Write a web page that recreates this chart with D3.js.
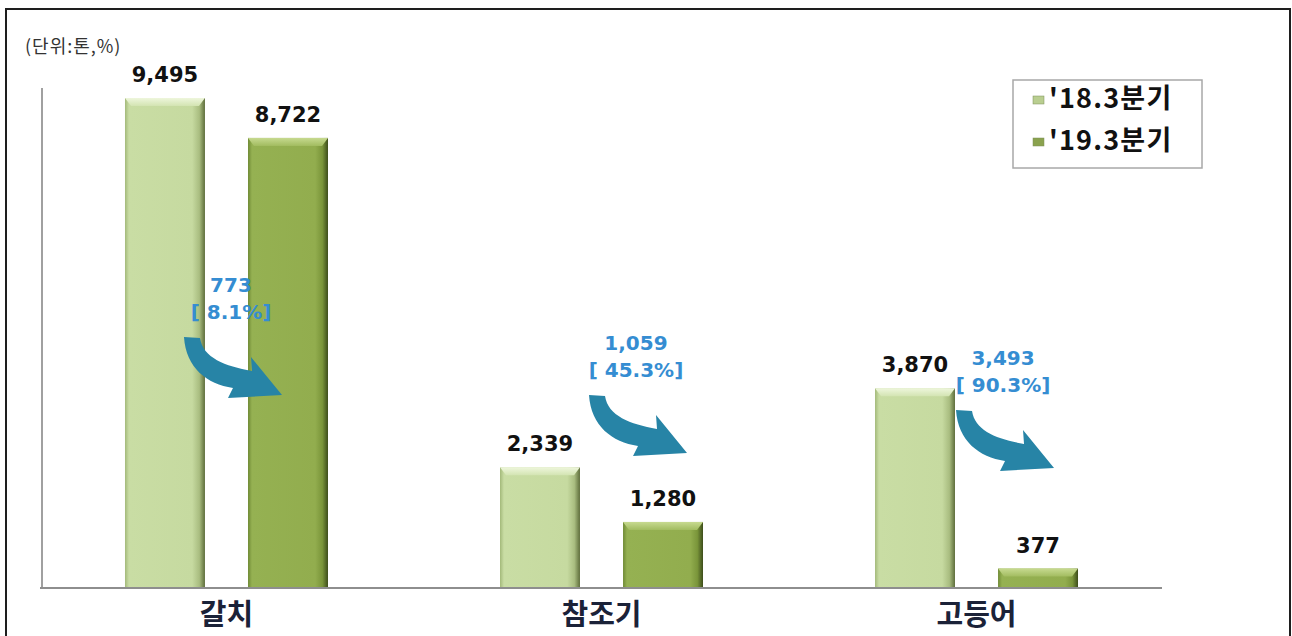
<!DOCTYPE html>
<html>
<head>
<meta charset="utf-8">
<script src="https://cdn.jsdelivr.net/npm/d3@7"></script>
<style>
  body { margin: 0; background: #fff; }
  svg { display: block; }
</style>
</head>
<body>
<svg width="1292" height="636"></svg>
<script>
// data (unit: tonnes)
var categories = ["갈치", "참조기", "고등어"];
var seriesNames = ["'18.3분기", "'19.3분기"];
var q2018 = [9495, 2339, 3870];
var q2019 = [8722, 1280, 377];

// decrease and its rate, shown in blue next to each arrow
var diffs = q2018.map(function(d, i) { return d - q2019[i]; });
var rates = q2018.map(function(d, i) { return diffs[i] / d * 100; });

var svg = d3.select("svg"),
    width = +svg.attr("width"),
    height = +svg.attr("height");

var baseY = 588, topY = 98;
var fmt = d3.format(",");

var x0 = d3.scaleBand().domain(categories).range([39, 1164])
    .paddingInner(0.4587).paddingOuter(0.2293);
var x1 = d3.scaleBand().domain(seriesNames).range([0, x0.bandwidth()]).paddingInner(0.35);
var y = d3.scaleLinear().domain([0, d3.max(q2018)]).range([baseY, topY]);

// gradients for the bevelled bars
var defs = svg.append("defs");
var palette = [
  { side: ["#a3b97a", "#c9dda4", "#c6daa0", "#a9bd80", "#5e6d3b"], top: ["#eef6dc", "#d3e4b2"], legend: "#b9ce90" },
  { side: ["#6f8a35", "#95b152", "#92ad4e", "#7a953a", "#3d4d1b"], top: ["#c7da90", "#a2bc60"], legend: "#8aa24e" }
];
palette.forEach(function(p, i) {
  var g = defs.append("linearGradient").attr("id", "side" + i)
      .attr("x1", 0).attr("x2", 1).attr("y1", 0).attr("y2", 0);
  [0, 0.05, 0.84, 0.93, 1].forEach(function(o, k) {
    g.append("stop").attr("offset", o).attr("stop-color", p.side[k]);
  });
  var t = defs.append("linearGradient").attr("id", "top" + i)
      .attr("x1", 0).attr("x2", 0).attr("y1", 0).attr("y2", 1);
  t.append("stop").attr("offset", 0).attr("stop-color", p.top[0]);
  t.append("stop").attr("offset", 1).attr("stop-color", p.top[1]);
});

// outer frame
svg.append("rect")
  .attr("x", 6).attr("y", 9).attr("width", 1284).attr("height", 640)
  .attr("fill", "none").attr("stroke", "#1e1e1e").attr("stroke-width", 2);

// unit note
svg.append("text")
  .attr("x", 25).attr("y", 53)
  .attr("font-family", "'Noto Sans CJK KR', sans-serif")
  .attr("font-size", 18).attr("letter-spacing", 1).attr("fill", "#333")
  .text("(단위:톤,%)");

// axis lines
svg.append("line").attr("x1", 42).attr("x2", 42).attr("y1", 88).attr("y2", baseY)
  .attr("stroke", "#a0a0a0").attr("stroke-width", 2);

// bars
var rows = categories.map(function(c, i) {
  return { cat: c, values: [q2018[i], q2019[i]] };
});

var group = svg.selectAll("g.cat").data(rows).enter().append("g")
  .attr("class", "cat")
  .attr("transform", function(d) { return "translate(" + x0(d.cat) + ",0)"; });

var bar = group.selectAll("g.bar")
  .data(function(d) {
    return d.values.map(function(v, k) { return { s: seriesNames[k], k: k, v: v }; });
  })
  .enter().append("g").attr("class", "bar");

var bw = x1.bandwidth();

bar.append("rect")
  .attr("x", function(d) { return x1(d.s); })
  .attr("y", function(d) { return y(d.v); })
  .attr("width", bw)
  .attr("height", function(d) { return baseY - y(d.v); })
  .attr("fill", function(d) { return "url(#side" + d.k + ")"; });

// top bevel
bar.append("path")
  .attr("d", function(d) {
    var xl = x1(d.s), yt = y(d.v), h = Math.min(8, (baseY - yt) / 2), e = Math.min(6, h);
    return "M" + xl + "," + yt + "L" + (xl + bw) + "," + yt +
           "L" + (xl + bw - e) + "," + (yt + h) + "L" + (xl + e) + "," + (yt + h) + "Z";
  })
  .attr("fill", function(d) { return "url(#top" + d.k + ")"; });

bar.append("text")
  .attr("x", function(d) { return x1(d.s) + bw / 2; })
  .attr("y", function(d) { return y(d.v) - 16; })
  .attr("text-anchor", "middle")
  .attr("font-family", "'DejaVu Sans', sans-serif")
  .attr("font-weight", "bold").attr("font-size", 21)
  .attr("fill", "#111")
  .text(function(d) { return fmt(d.v); });

// baseline over the bars
svg.append("line").attr("x1", 40).attr("x2", 1162).attr("y1", baseY).attr("y2", baseY)
  .attr("stroke", "#8e8e8e").attr("stroke-width", 2);

// category labels
svg.selectAll("text.cat").data(categories).enter().append("text")
  .attr("class", "cat")
  .attr("x", function(d) { return x0(d) + x0.bandwidth() / 2; })
  .attr("y", 625)
  .attr("text-anchor", "middle")
  .attr("font-family", "'Noto Sans CJK KR', sans-serif")
  .attr("font-weight", "bold").attr("font-size", 29)
  .attr("fill", "#1b2238")
  .text(function(d) { return d; });

// curved decrease arrows with labels (placement per group)
var arrowAt = [{ dx: 60, y: 337 }, { dx: 90, y: 395 }, { dx: 82, y: 410 }];
var arrowShape = "M-1,0L15,1C18,21 40,29 67,34L66,20L97,58L43,61L48,51C22,47 1,31 -1,0Z";

categories.forEach(function(c, i) {
  var ax = x0(c) + arrowAt[i].dx, ay = arrowAt[i].y;
  svg.append("path")
    .attr("transform", "translate(" + ax + "," + ay + ")")
    .attr("d", arrowShape)
    .attr("fill", "#2784a6");
  var lab = svg.append("text")
    .attr("text-anchor", "middle")
    .attr("font-family", "'DejaVu Sans', sans-serif")
    .attr("font-weight", "bold")
    .attr("font-size", 20).attr("fill", "#358dd2");
  lab.append("tspan").attr("x", ax + 46).attr("y", ay - 45).text(fmt(diffs[i]));
  lab.append("tspan").attr("x", ax + 46).attr("y", ay - 18).text("[ " + rates[i].toFixed(1) + "%]");
});

// legend
var legend = svg.append("g").attr("transform", "translate(1013,80)");
legend.append("rect").attr("width", 189).attr("height", 88)
  .attr("fill", "#fff").attr("stroke", "#a8a8a8").attr("stroke-width", 1.5);
seriesNames.forEach(function(s, k) {
  var ly = 28 + k * 42;
  legend.append("rect").attr("x", 20).attr("y", ly - 12).attr("width", 11).attr("height", 8)
    .attr("fill", palette[k].legend).attr("stroke", "#7d8f5a").attr("stroke-width", 0.5);
  legend.append("text").attr("x", 36).attr("y", ly)
    .attr("font-family", "'Noto Sans CJK KR', sans-serif")
    .attr("font-weight", "bold").attr("font-size", 27).attr("letter-spacing", 1.2)
    .attr("fill", "#111")
    .text(s);
});
</script>
</body>
</html>
